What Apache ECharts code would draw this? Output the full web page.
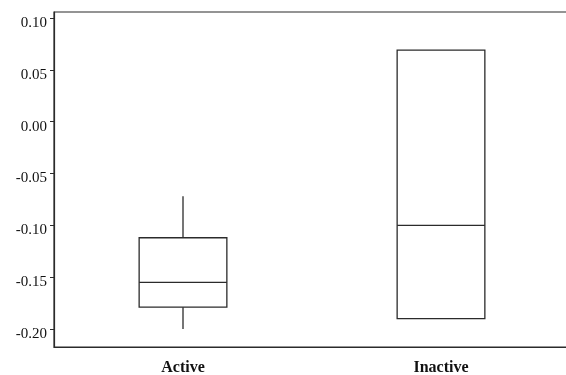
<!DOCTYPE html>
<html>
<head>
<meta charset="utf-8">
<script src="https://cdn.jsdelivr.net/npm/echarts@6/dist/echarts.min.js"></script>
<style>
  html, body { margin: 0; padding: 0; background: #fff; }
  #chart { width: 566px; height: 375px; }
</style>
</head>
<body>
<div id="chart"></div>
<script>
// Groups along the x axis
const categories = ['Active', 'Inactive'];
// Five-number summaries: [lower whisker, Q1, median, Q3, upper whisker]
const activeStats = [-0.200, -0.179, -0.155, -0.112, -0.072];
const inactiveStats = [-0.190, -0.190, -0.100, 0.069, 0.069];
// Y-axis tick values
const yTicks = [-0.20, -0.15, -0.10, -0.05, 0.00, 0.05, 0.10];
const yMin = -0.2174;
const yMax = 0.1058;

const ink = '#2b2b2b';
const boxFrac = 0.34; // box width as a share of the category band

// Box without whisker caps: box, median line, plain vertical whiskers
function renderBox(params, api) {
  const idx = api.value(0);
  const [lo, q1, med, q3, hi] = [1, 2, 3, 4, 5].map(i => api.value(i));
  const band = api.size([1, 0])[0];
  const half = band * boxFrac / 2;
  const cx = api.coord([idx, 0])[0];
  const y = v => api.coord([idx, v])[1];
  const stroke = { stroke: ink, lineWidth: 1.3, fill: null };
  const children = [
    { type: 'rect', shape: { x: cx - half, y: y(q3), width: half * 2, height: y(q1) - y(q3) },
      style: { stroke: ink, lineWidth: 1.3, fill: '#fff' } },
    { type: 'line', shape: { x1: cx - half, y1: y(med), x2: cx + half, y2: y(med) }, style: stroke }
  ];
  if (hi > q3) children.push({ type: 'line', shape: { x1: cx, y1: y(hi), x2: cx, y2: y(q3) }, style: stroke });
  if (lo < q1) children.push({ type: 'line', shape: { x1: cx, y1: y(q1), x2: cx, y2: y(lo) }, style: stroke });
  return { type: 'group', children };
}

const chart = echarts.init(document.getElementById('chart'), null, { renderer: 'canvas' });

chart.setOption({
  animation: false,
  backgroundColor: '#ffffff',
  grid: {
    left: 54, top: 12, width: 516, height: 335,
    outerBoundsMode: 'none',
    show: true, borderColor: ink, borderWidth: 1.2, backgroundColor: 'transparent'
  },
  xAxis: {
    type: 'category',
    data: categories,
    boundaryGap: true,
    axisLine: { onZero: false, lineStyle: { color: ink, width: 1.2 } },
    axisTick: { alignWithLabel: true, length: 3, lineStyle: { color: ink } },
    axisLabel: {
      color: '#111', fontFamily: 'Liberation Serif', fontWeight: 'bold', fontSize: 16, margin: 13
    },
    splitLine: { show: false }
  },
  yAxis: {
    type: 'value',
    min: yMin,
    max: yMax,
    axisLine: { show: true, lineStyle: { color: ink, width: 1.2 } },
    axisTick: { show: true, length: 4, customValues: yTicks, lineStyle: { color: ink } },
    axisLabel: {
      customValues: yTicks,
      color: '#111', fontFamily: 'Liberation Serif', fontSize: 15, margin: 7,
      verticalAlign: 'top', lineHeight: 10,
      formatter: v => v.toFixed(2)
    },
    splitLine: { show: false }
  },
  series: [{
    type: 'custom',
    renderItem: renderBox,
    encode: { x: 0, y: [1, 2, 3, 4, 5] },
    data: [
      [0].concat(activeStats),
      [1].concat(inactiveStats)
    ],
    silent: true
  }]
});
</script>
</body>
</html>
